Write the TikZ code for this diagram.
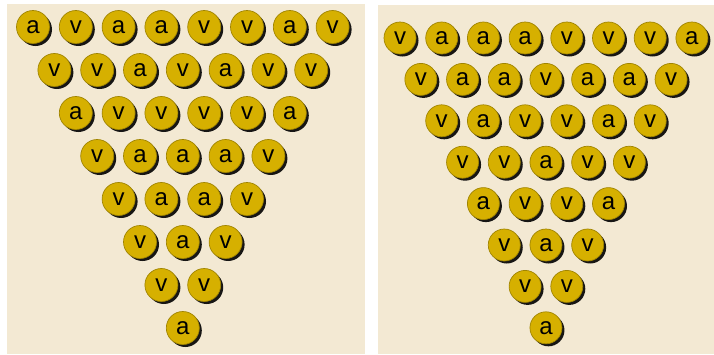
\documentclass[tikz,border=0pt]{standalone}
\usepackage{fontspec}
\setmainfont{Liberation Sans}
\usetikzlibrary{shadows}
\definecolor{coingold}{RGB}{214,176,0}
\definecolor{paper}{RGB}{243,233,211}

\tikzset{
  coin/.style={circle, fill=coingold, draw=coingold!75!black, line width=0.7pt,
    minimum size=33pt, inner sep=0pt, text=black,
    font=\fontsize{24}{24}\selectfont,
    drop shadow={shadow xshift=2.5pt, shadow yshift=-2.5pt, opacity=0.9, fill=black}},
  panel/.style={fill=paper, draw=none}
}

\begin{document}
\begin{tikzpicture}[x=1pt, y=-1pt]
\useasboundingbox (0,0) rectangle (714,354);
\fill[white] (0,0) rectangle (714,354);
\fill[panel] (7,4) rectangle (365,354);
\fill[panel] (378,5) rectangle (714,354);

% left triangle
\foreach \row [count=\r from 0] in {{a,v,a,a,v,v,a,v},{v,v,a,v,a,v,v},{a,v,v,v,v,a},
    {v,a,a,a,v},{v,a,a,v},{v,a,v},{v,v},{a}} {
  \foreach \ch [count=\c from 0] in \row {
    \node[coin] (L-\r-\c) at ({33+21.4*\r+42.8*\c},{27+43*\r}) {\ch};
  }
}

% right triangle
\foreach \row [count=\r from 0] in {{v,a,a,a,v,v,v,a},{v,a,a,v,a,a,v},{v,a,v,v,a,v},
    {v,v,a,v,v},{a,v,v,a},{v,a,v},{v,v},{a}} {
  \foreach \ch [count=\c from 0] in \row {
    \node[coin, minimum size=32pt] (R-\r-\c) at ({400+20.85*\r+41.7*\c},{38+41.4*\r}) {\ch};
  }
}
\end{tikzpicture}
\end{document}
